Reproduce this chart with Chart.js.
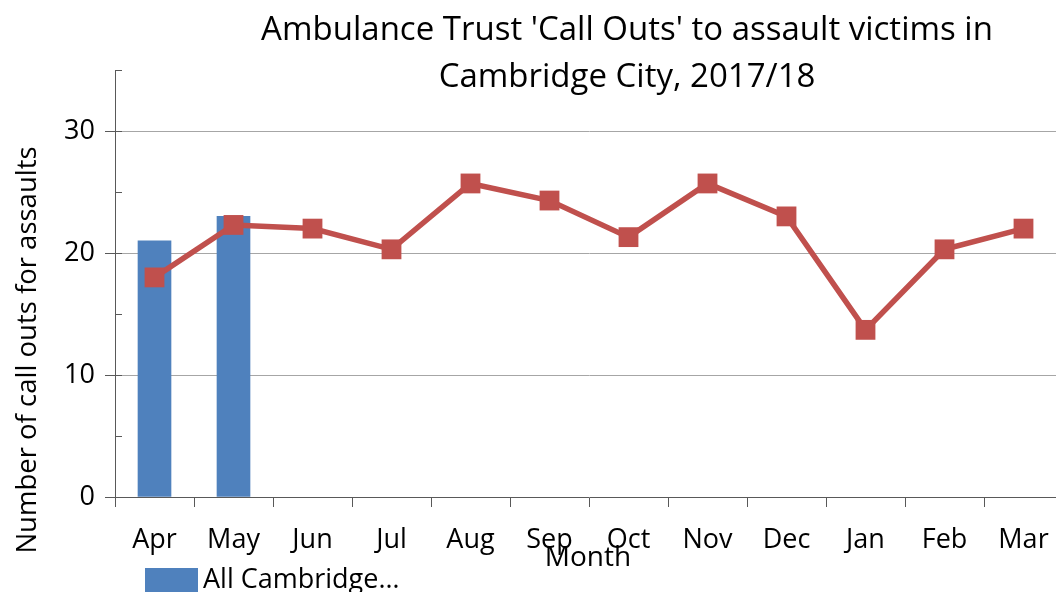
<!DOCTYPE html>
<html>
<head>
<meta charset="utf-8">
<script src="https://cdn.jsdelivr.net/npm/chart.js@4/dist/chart.umd.min.js"></script>
<style>
  html, body { margin: 0; padding: 0; background: #fff; overflow: hidden; }
  #wrap { width: 1056px; height: 592px; overflow: hidden; }
</style>
</head>
<body>
<!-- plot area runs a few pixels past the right edge, so the canvas is slightly wider than the frame -->
<div id="wrap"><canvas id="callOuts" width="1063" height="592"></canvas></div>
<script>
const months = ["Apr", "May", "Jun", "Jul", "Aug", "Sep", "Oct", "Nov", "Dec", "Jan", "Feb", "Mar"];
const allCambridge = [21, 23, null, null, null, null, null, null, null, null, null, null];
const cityCallOuts = [18, 22.3, 22, 20.3, 25.7, 24.3, 21.3, 25.7, 23, 13.7, 20.3, 22];
const yTicks = [0, 10, 20, 30];

const titleLines = ["Ambulance Trust 'Call Outs' to assault victims in", "Cambridge City, 2017/18"];
const FONT = "'Open Sans', sans-serif";
const AXIS = "#595959";

// title, y axis title, tick marks, x axis title and the legend box
const extras = {
  id: "extras",
  afterDraw(chart) {
    const ctx = chart.ctx;
    const y = chart.scales.y;
    ctx.save();
    ctx.fillStyle = "#000";
    ctx.font = "33px " + FONT;
    ctx.textAlign = "center";
    ctx.textBaseline = "middle";
    ctx.fillText(titleLines[0], 627, 31);
    ctx.fillText(titleLines[1], 627, 78);

    ctx.save();
    ctx.translate(28, 350);
    ctx.rotate(-Math.PI / 2);
    ctx.font = "27.5px " + FONT;
    ctx.fillText("Number of call outs for assaults", 0, 0);
    ctx.restore();

    ctx.strokeStyle = AXIS;
    ctx.lineWidth = 1;
    for (let v = 0; v <= 35; v += 5) {
      const py = Math.round(y.getPixelForValue(v)) + 0.5;
      const major = yTicks.includes(v);
      ctx.beginPath();
      ctx.moveTo(major ? y.right - 10 : y.right, py);
      ctx.lineTo(y.right + 7, py);
      ctx.stroke();
    }

    ctx.font = "28px " + FONT;
    ctx.fillText("Month", 588, 558);

    ctx.fillStyle = "#4f81bd";
    ctx.fillRect(145, 568, 53, 24);
    ctx.fillStyle = "#000";
    ctx.textAlign = "left";
    ctx.font = "27px " + FONT;
    ctx.fillText("All Cambridge\u2026", 203, 580);
    ctx.restore();
  }
};

new Chart(document.getElementById("callOuts"), {
  data: {
    labels: months,
    datasets: [
      {
        type: "line",
        label: "Cambridge City",
        data: cityCallOuts,
        borderColor: "#c0504d",
        backgroundColor: "#c0504d",
        borderWidth: 5.5,
        pointStyle: "rect",
        pointRadius: 14,
        pointBorderWidth: 0,
        tension: 0,
        order: 0,
      },
      {
        type: "bar",
        label: "All Cambridge",
        data: allCambridge,
        backgroundColor: "#4f81bd",
        barThickness: 33,
        order: 1,
      },
    ],
  },
  options: {
    responsive: false,
    animation: false,
    layout: { autoPadding: false, padding: { top: 70, right: 0, bottom: 0, left: 0 } },
    plugins: {
      legend: { display: false },
      title: { display: false },
      tooltip: { enabled: false },
    },
    scales: {
      x: {
        type: "category",
        offset: true,
        afterFit: (s) => {
          s.height = 95;
          s.paddingLeft = 0;
          s.paddingRight = 0;
        },
        grid: {
          offset: true,
          drawOnChartArea: false,
          drawTicks: true,
          tickLength: 10,
          tickColor: AXIS,
        },
        border: { color: AXIS, width: 1 },
        ticks: {
          color: "#000",
          font: { family: FONT, size: 27 },
          padding: 17,
          maxRotation: 0,
          autoSkip: false,
        },
      },
      y: {
        min: 0,
        max: 35,
        afterFit: (s) => {
          s.width = 115;
          s.paddingTop = 0;
          s.paddingBottom = 0;
        },
        afterBuildTicks: (s) => {
          s.ticks = [0, 5, 10, 15, 20, 25, 30, 35].map((v) => ({ value: v }));
        },
        grid: {
          drawTicks: false,
          color: (c) => (yTicks.includes(c.tick.value) && c.tick.value > 0 ? "#a6a6a6" : "rgba(0,0,0,0)"),
        },
        border: { color: AXIS, width: 1 },
        ticks: {
          color: "#000",
          font: { family: FONT, size: 27 },
          padding: 20,
          callback: (v) => (yTicks.includes(v) ? v : ""),
        },
      },
    },
  },
  plugins: [extras],
});
</script>
</body>
</html>
